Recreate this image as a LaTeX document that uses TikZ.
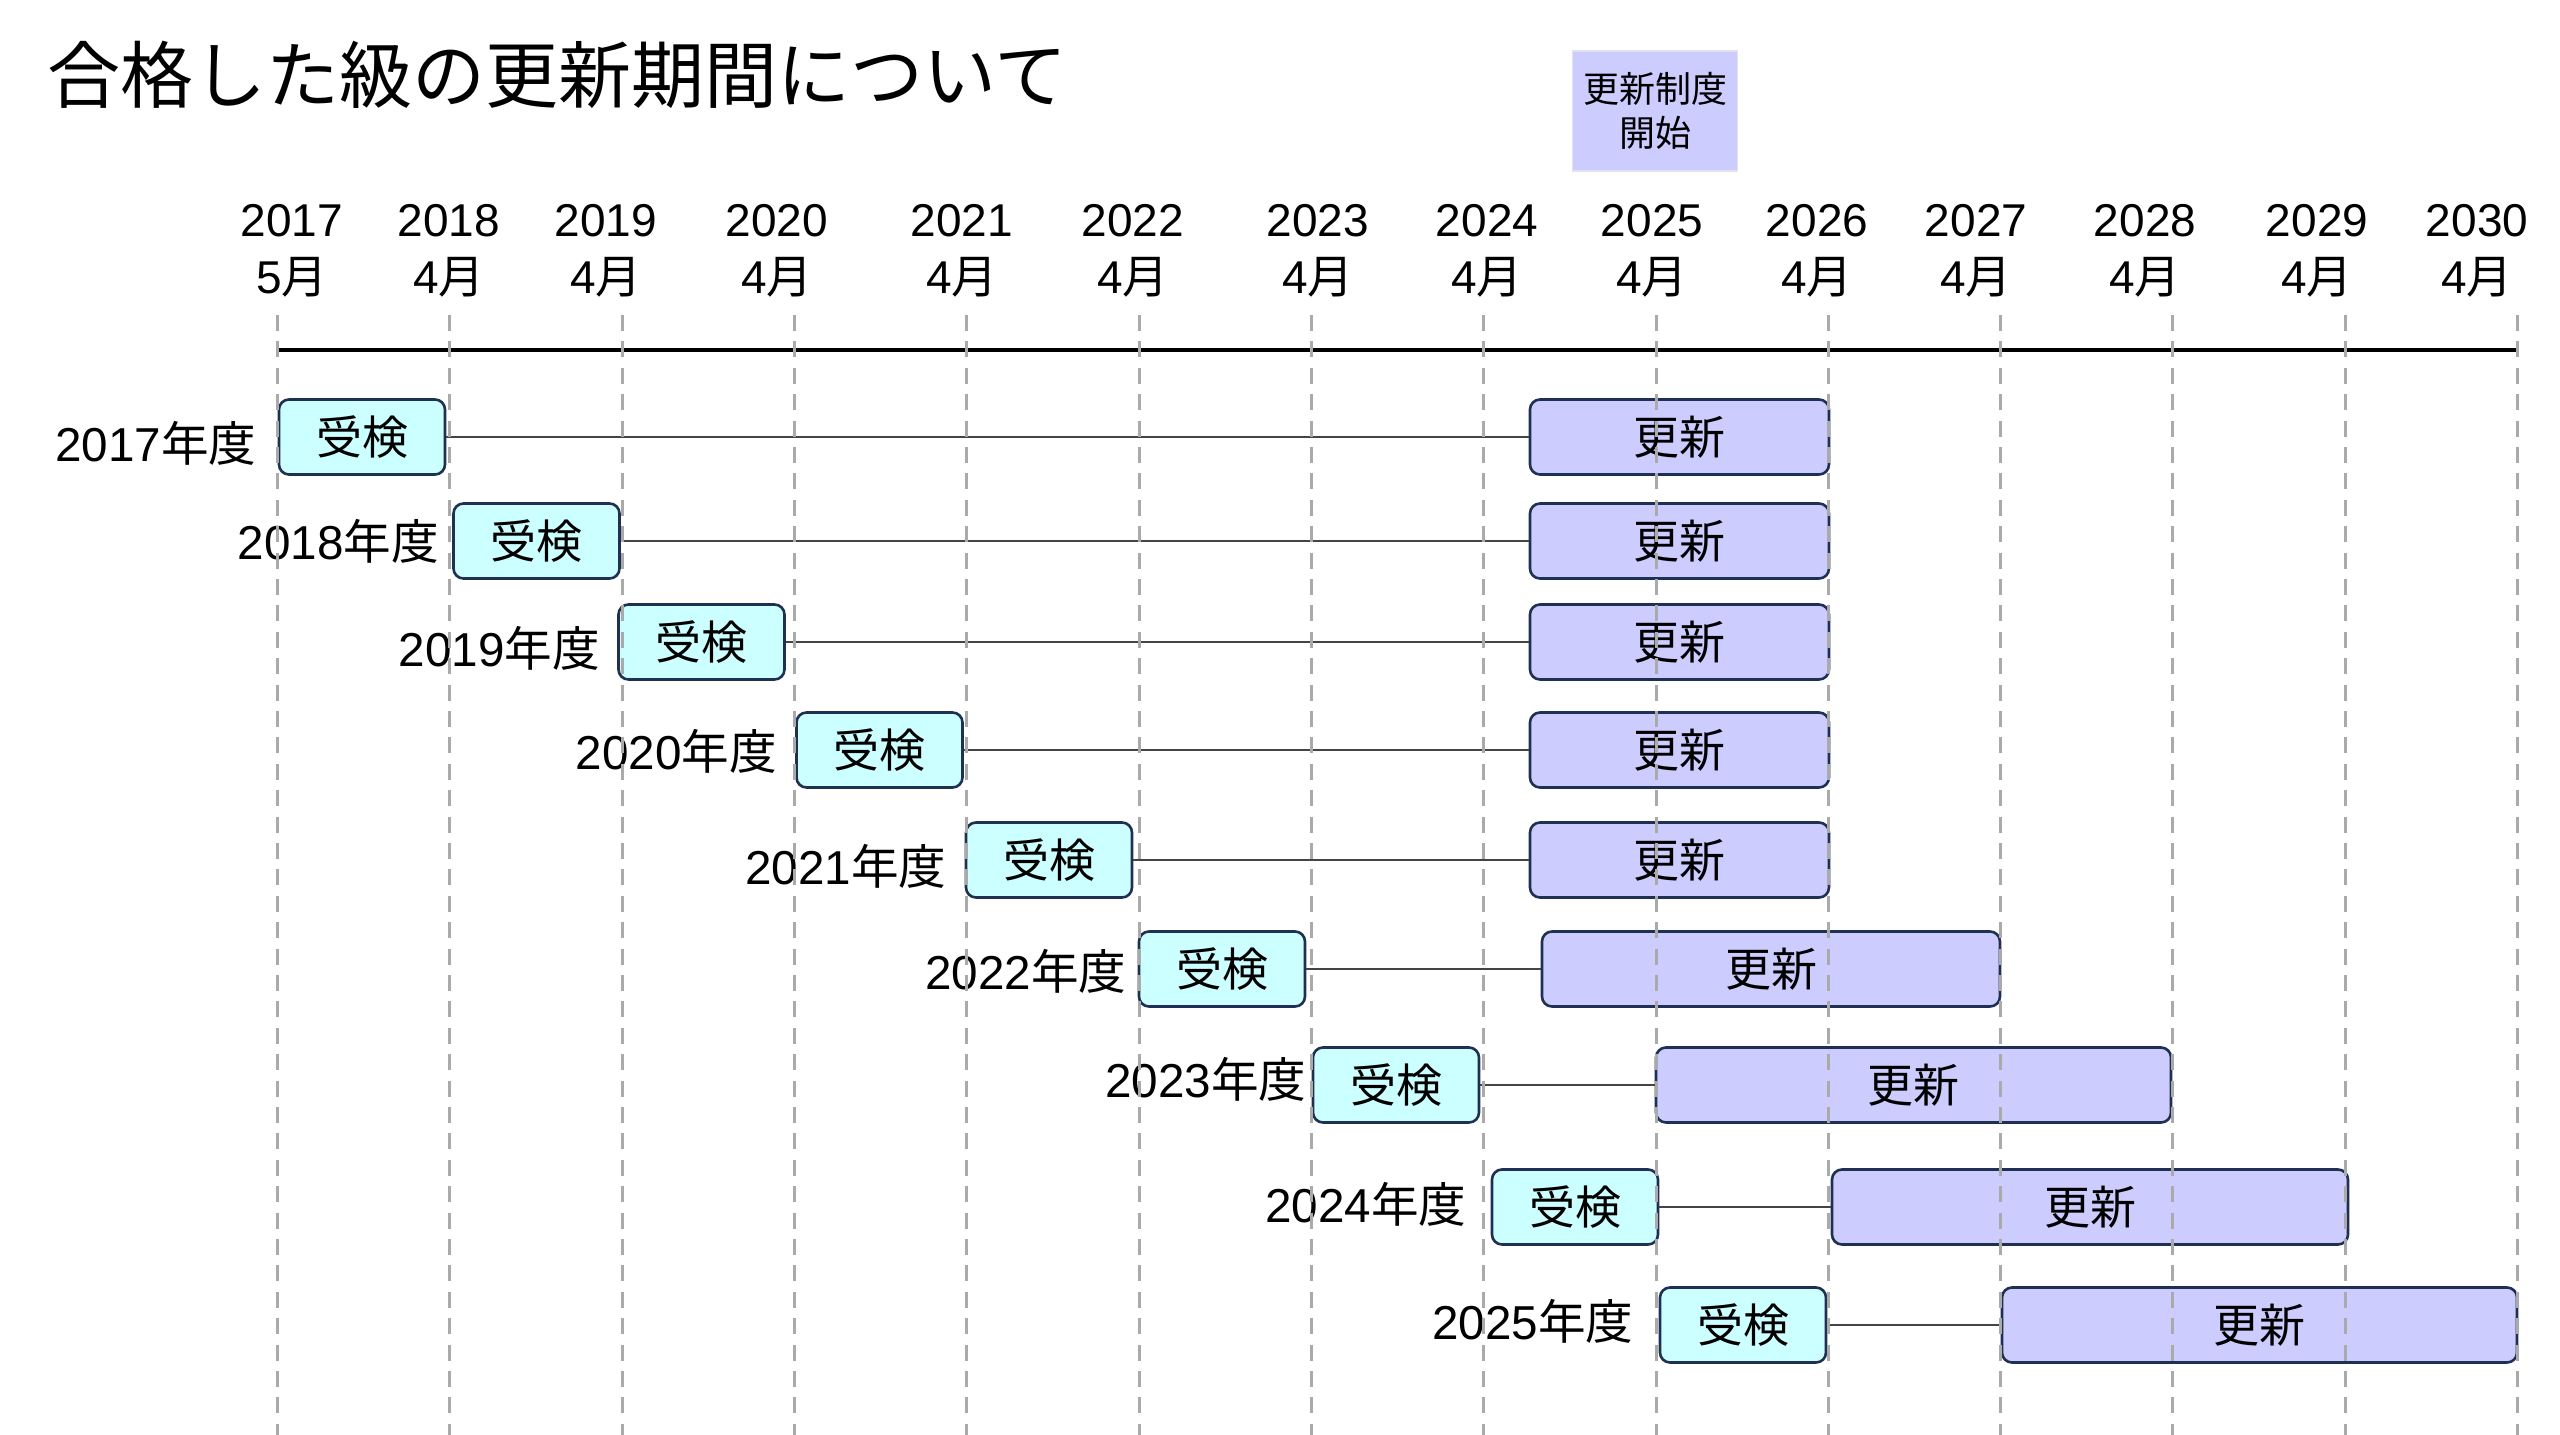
\documentclass[tikz,border=0pt]{standalone}
\usepackage{fontspec}
\setmainfont{Liberation Sans}
\newfontfamily\jp{Noto Sans CJK JP}
\usepackage{xcolor}
\usetikzlibrary{positioning}
\definecolor{jukenfill}{HTML}{CCFFFF}
\definecolor{koushinfill}{HTML}{CCCCFF}
\definecolor{boxline}{HTML}{1F3052}
\definecolor{gridgray}{HTML}{AAAAAA}
\definecolor{linkgray}{HTML}{444444}
\tikzset{
  juken/.style={draw=boxline, line width=0.65pt, fill=jukenfill, rounded corners=2.5pt,
    minimum width=41.5pt, minimum height=18.75pt, inner sep=0pt, font=\fontsize{11.5}{13}\jp},
  koushin/.style={juken, fill=koushinfill},
  nendo/.style={inner sep=0pt, font=\fontsize{11.9}{13}\selectfont},
  yearlabel/.style={inner sep=0pt, align=center, font=\fontsize{11.5}{14.25}\selectfont},
  link/.style={draw=linkgray, line width=0.45pt},
  gridline/.style={draw=gridgray, line width=0.75pt, dash pattern=on 4pt off 2.6pt}
}

\begin{document}
\begin{tikzpicture}[x=0.25pt, y=-0.25pt]
    \useasboundingbox (0,0) rectangle (2560,1435);

    \node[anchor=west, inner sep=0pt, font=\fontsize{18.25}{20}\jp] (title) at (47,75) {合格した級の更新期間について};
    \node[fill=koushinfill, draw=koushinfill!70!gray!40, line width=0.3pt, minimum width=41.25pt, minimum height=30pt,
          inner sep=0pt, align=center, font=\fontsize{9}{11}\jp] (start) at (1655,111) {更新制度\\開始};

    % time axis and year heads
    \draw[line width=1pt] (278,350) coordinate (axisL) -- (2518,350) coordinate (axisR);
    \node[yearlabel] (y2017) at (292,251) {2017\\5{\jp 月}};
    \node[yearlabel] (y2018) at (449,251) {2018\\4{\jp 月}};
    \node[yearlabel] (y2019) at (606,251) {2019\\4{\jp 月}};
    \node[yearlabel] (y2020) at (777,251) {2020\\4{\jp 月}};
    \node[yearlabel] (y2021) at (962,251) {2021\\4{\jp 月}};
    \node[yearlabel] (y2022) at (1133,251) {2022\\4{\jp 月}};
    \node[yearlabel] (y2023) at (1318,251) {2023\\4{\jp 月}};
    \node[yearlabel] (y2024) at (1487,251) {2024\\4{\jp 月}};
    \node[yearlabel] (y2025) at (1652,251) {2025\\4{\jp 月}};
    \node[yearlabel] (y2026) at (1817,251) {2026\\4{\jp 月}};
    \node[yearlabel] (y2027) at (1976,251) {2027\\4{\jp 月}};
    \node[yearlabel] (y2028) at (2145,251) {2028\\4{\jp 月}};
    \node[yearlabel] (y2029) at (2317,251) {2029\\4{\jp 月}};
    \node[yearlabel] (y2030) at (2477,251) {2030\\4{\jp 月}};

    % exam and renewal per year
    \node[juken] (j2017) at (362,437) {受検};
    \node[koushin, minimum width=74.75pt] (k2017) at (1679.5,437) {更新};
    \node[nendo, left=5.1pt of j2017, yshift=-1.6pt] (n2017) {2017{\jp 年度}};

    \node[juken] (j2018) at (536.5,541) {受検};
    \node[koushin, minimum width=74.75pt] (k2018) at (1679.5,541) {更新};
    \node[nendo, left=3.1pt of j2018] (n2018) {2018{\jp 年度}};

    \node[juken] (j2019) at (701.5,642) {受検};
    \node[koushin, minimum width=74.75pt] (k2019) at (1679.5,642) {更新};
    \node[nendo, left=4.1pt of j2019, yshift=-1.6pt] (n2019) {2019{\jp 年度}};

    \node[juken] (j2020) at (879.5,750) {受検};
    \node[koushin, minimum width=74.75pt] (k2020) at (1679.5,750) {更新};
    \node[nendo, left=4.35pt of j2020, yshift=-0.4pt] (n2020) {2020{\jp 年度}};

    \node[juken] (j2021) at (1049,860) {受検};
    \node[koushin, minimum width=74.75pt] (k2021) at (1679.5,860) {更新};
    \node[nendo, left=4.35pt of j2021, yshift=-1.6pt] (n2021) {2021{\jp 年度}};

    \node[juken] (j2022) at (1222,969) {受検};
    \node[koushin, minimum width=114.5pt] (k2022) at (1771,969) {更新};
    \node[nendo, left=2.6pt of j2022, yshift=-0.6pt] (n2022) {2022{\jp 年度}};

    \node[juken] (j2023) at (1396,1085) {受検};
    \node[koushin, minimum width=128.75pt] (k2023) at (1913.5,1085) {更新};
    \node[nendo, left=1.1pt of j2023, yshift=1.4pt] (n2023) {2023{\jp 年度}};

    \node[juken] (j2024) at (1575,1207) {受検};
    \node[koushin, minimum width=129pt] (k2024) at (2090,1207) {更新};
    \node[nendo, left=5.85pt of j2024, yshift=0.6pt] (n2024) {2024{\jp 年度}};

    \node[juken] (j2025) at (1743,1325) {受検};
    \node[koushin, minimum width=128.75pt] (k2025) at (2259.5,1325) {更新};
    \node[nendo, left=6.1pt of j2025, yshift=1pt] (n2025) {2025{\jp 年度}};

    \draw[link] (j2017) -- (k2017);
    \draw[link] (j2018) -- (k2018);
    \draw[link] (j2019) -- (k2019);
    \draw[link] (j2020) -- (k2020);
    \draw[link] (j2021) -- (k2021);
    \draw[link] (j2022) -- (k2022);
    \draw[link] (j2023) -- (k2023);
    \draw[link] (j2024) -- (k2024);
    \draw[link] (j2025) -- (k2025);

    % dashed year lines on top
    \foreach \i in {0,...,13}
        \draw[gridline] ({277.6+172.3*\i},315) -- ++(0,1120);
\end{tikzpicture}
\end{document}
